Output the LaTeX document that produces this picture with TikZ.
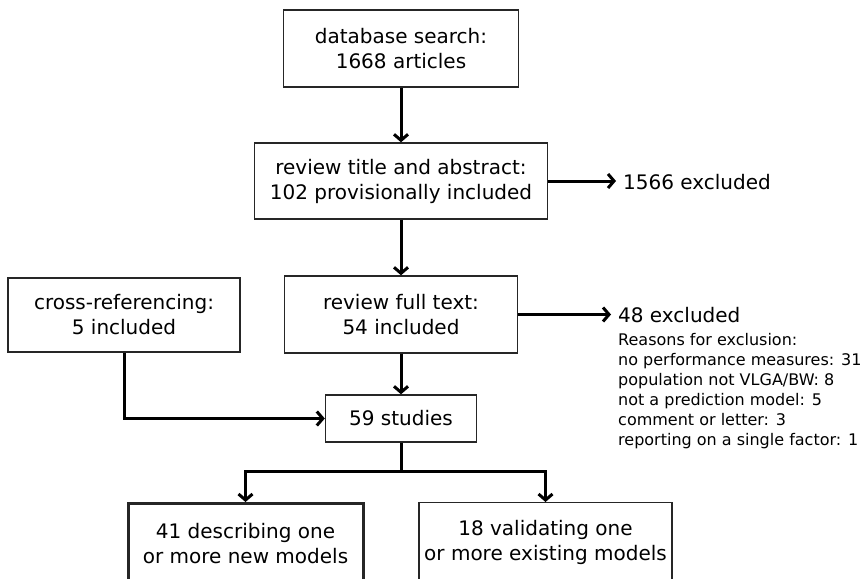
\documentclass[tikz,border=0pt]{standalone}
\usepackage{fontspec}
\setmainfont{DejaVu Sans}
\usetikzlibrary{arrows.meta}
\begin{document}
\begin{tikzpicture}[x=1pt,y=-1pt,
  box/.style={draw=black!85, line width=1.4pt, inner sep=0pt, align=center,
    font=\fontsize{20}{25}\selectfont},
  lbl/.style={inner sep=0pt, anchor=west, font=\fontsize{20}{25}\selectfont},
  line/.style={line width=3pt},
  arr/.style={line width=3pt, -{Straight Barb[length=6pt,width=14pt]}}]
\useasboundingbox (0,0) rectangle (861,578);
\clip (0,0) rectangle (861,578);
\node[box, minimum width=235pt, minimum height=77pt] (A) at (401,48.5) {database search:\\1668 articles};
\node[box, minimum width=293pt, minimum height=76pt] (B) at (401,181) {review title and abstract:\\102 provisionally included};
\node[lbl] (X1) at (623,182) {1566 excluded};
\node[box, minimum width=233pt, minimum height=77pt] (D) at (401,314.5) {review full text:\\54 included};
\node[box, minimum width=232pt, minimum height=74pt] (E) at (124,315) {cross-referencing:\\5 included};
\node[lbl] (X2) at (618,315) {48 excluded};
\node[inner sep=0pt, anchor=north west, align=left, font=\fontsize{16}{20}\selectfont] (R) at (618,333)
  {Reasons for exclusion:\\no performance measures: 31\\population not VLGA/BW: 8\\not a prediction model: 5\\comment or letter: 3\\reporting on a single factor: 1};
\node[box, minimum width=151pt, minimum height=47pt] (F) at (401,418.5) {59 studies};
\node[box, line width=3pt, minimum width=235pt, minimum height=80pt, anchor=north] (G) at (245.5,502) {41 describing one\\or more new models};
\node[box, minimum width=253pt, minimum height=80pt, anchor=north] (H) at (545.5,502) {18 validating one\\or more existing models};
\draw[arr] (A) -- (B);
\draw[arr] (B) -- (D);
\draw[arr] (B.east) -- ([xshift=-7pt]B.east -| X1.west);
\draw[arr] (D.east) -- ([xshift=-7pt]D.east -| X2.west);
\draw[arr] (D) -- (F);
\draw[arr] (E.south) |- (F.west);
\draw[line] (F.south) -- ++(0,29) coordinate (s);
\draw[arr] (s) -| (G.north);
\draw[arr] (s) -| (H.north);
\end{tikzpicture}
\end{document}
